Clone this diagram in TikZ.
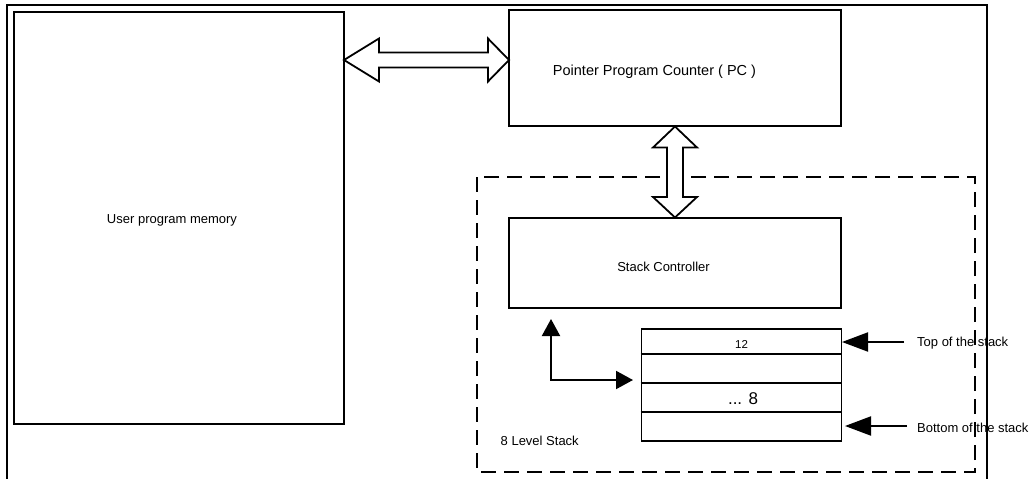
\documentclass[tikz,border=0pt]{standalone}
\usepackage{fontspec}
\setmainfont{Liberation Sans}
\usetikzlibrary{arrows.meta,calc}

\tikzset{
  box/.style={draw, line width=1.8pt, inner sep=0pt},
  lbl/.style={font=\fontsize{13}{15}\selectfont, inner sep=0pt},
  frame/.style={line width=2pt},
  dashbox/.style={draw, line width=2.6pt, dash pattern=on 15pt off 8pt},
  hollow/.style={draw, line width=1.8pt, fill=white, line join=miter},
  ptr/.style={line width=2pt, -{Triangle[length=26pt,width=19pt]}},
  elbow/.style={line width=2pt, {Triangle[length=17pt,width=18pt]}-{Triangle[length=17pt,width=18pt]}},
  row/.style={line width=1.8pt}
}

\begin{document}
\begin{tikzpicture}[x=1pt,y=-1pt]
  \useasboundingbox (0,0) rectangle (1029,479);

  % outer frame, open at the bottom
  \draw[frame] (7,479) -- (7,5) -- (987,5) -- (987,479);

  % user memory
  \node[box, minimum width=330pt, minimum height=412pt] (mem) at (179,218) {};
  \node[lbl] (memtxt) at (172,220) {User program memory};

  % program counter
  \node[box, minimum width=332pt, minimum height=116pt] (pc) at (675,68) {};
  \node[lbl, font=\fontsize{14.5}{16}\selectfont] (pctxt) at (654.5,72) {Pointer Program Counter ( PC )};

  % dashed stack region
  \draw[dashbox] (477,177) rectangle (975,472);
  \node[lbl, anchor=west] (lvl) at (500.5,441) {8 Level Stack};

  % stack controller
  \node[box, minimum width=332pt, minimum height=90.5pt] (sc) at (675,263) {};
  \node[lbl] (sctxt) at (663.5,267) {Stack Controller};

  % stack table
  \node[box, minimum width=200pt, minimum height=112pt] (tbl) at (741.5,385) {};
  \draw[row] (tbl.west |- 0,354) -- (tbl.east |- 0,354);
  \draw[row] (tbl.west |- 0,383) -- (tbl.east |- 0,383);
  \draw[row] (tbl.west |- 0,412) -- (tbl.east |- 0,412);
  \node[lbl, font=\fontsize{11.5}{13}\selectfont] (top) at (741.5,344.5) {12};
  \node[lbl, font=\fontsize{17}{19}\selectfont] (mid) at (743,399) {... 8};

  % pointers into the table
  \coordinate (toptail) at (904,342);
  \coordinate (bottail) at (907,426);
  \draw[ptr] (toptail) -- (842,342);
  \draw[ptr] (bottail) -- (845,426);
  \node[lbl, anchor=west] (toplbl) at (917,343) {Top of the stack};
  \node[lbl, anchor=west] (botlbl) at (917,428) {Bottom of the stack};

  % controller <-> table
  \draw[elbow] (551,319) -- (551,380) -- (633,380);

  % memory <-> PC bus
  \draw[hollow] (344,60) -- (379,38.5) -- (379,52.5) -- (488,52.5) -- (488,38.5)
    -- (509,60) -- (488,81.5) -- (488,67.5) -- (379,67.5) -- (379,81.5) -- cycle;

  % PC <-> controller bus
  \draw[hollow] (675,126.5) -- (697,147.5) -- (683,147.5) -- (683,197) -- (697,197)
    -- (675,217.5) -- (653,197) -- (667,197) -- (667,147.5) -- (653,147.5) -- cycle;
\end{tikzpicture}
\end{document}
